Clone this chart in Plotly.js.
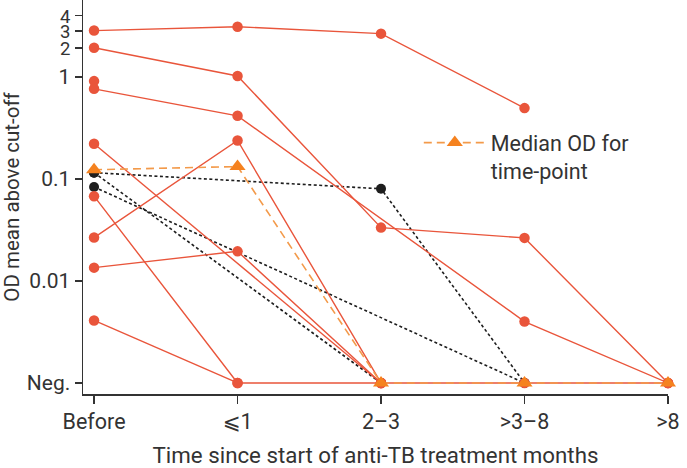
<!DOCTYPE html>
<html>
<head>
<meta charset="utf-8">
<script src="https://cdn.plot.ly/plotly-3.0.1.min.js"></script>
<style>html,body{margin:0;padding:0;background:#fff;}#chart{width:687px;height:468px;}</style>
</head>
<body>
<div id="chart"></div>
<script>
// Categories (time since start of anti-TB treatment, months)
const categories = ["Before", "⩽1", "2–3", ">3–8", ">8"];
const NEG = 0.001; // value used for "Neg."

const yTickVals = [NEG, 0.01, 0.1, 1, 1.92, 2.82, 4];
const yTickText = ["Neg.", "0.01", "0.1", "1", "2", "3", "4"];
const smallTicks = ["2", "3", "4"]; // drawn a little smaller so the tight stack fits

// Individual patients (red, solid)
const red1 = [2.84, 3.1, 2.65, 0.494, null];
const red2 = [1.93, 1.02, 0.0333, 0.0264, NEG];
const red3 = [0.908, null, null, null, null];
const red4 = [0.763, 0.415, null, 0.0040, NEG];
const red5 = [0.221, null, NEG, null, null];
const red6 = [0.0677, NEG, NEG, NEG, NEG];
const red7 = [0.0266, 0.238, NEG, null, null];
const red8 = [0.0135, 0.0195, NEG, null, null];
const red9 = [0.0041, NEG, null, null, null];

// Individual patients (black, dotted)
const black1 = [0.115, null, 0.080, NEG, null];
const black2 = [0.0833, null, null, NEG, null];
const black3 = [0.115, null, NEG, null, null];

// Median OD for time-point
const median = [0.123, 0.132, NEG, NEG, NEG];

const RED = "#e9553b";
const BLACK = "#1e1e1e";
const ORANGE = "#f5821f";

const traces = [];
[black1, black2, black3].forEach(function (v) {
  traces.push({
    x: categories, y: v, type: "scatter", mode: "lines+markers",
    connectgaps: true, showlegend: false, cliponaxis: false, hoverinfo: "skip",
    line: {color: BLACK, width: 1.6, dash: "3px,2.5px"},
    marker: {color: BLACK, size: 10, symbol: "circle"}
  });
});
[red1, red2, red3, red4, red5, red6, red7, red8, red9].forEach(function (v) {
  traces.push({
    x: categories, y: v, type: "scatter", mode: "lines+markers",
    connectgaps: true, showlegend: false, cliponaxis: false, hoverinfo: "skip",
    line: {color: RED, width: 1.4},
    marker: {color: RED, size: 10.5, symbol: "circle"}
  });
});
traces.push({
  x: categories, y: median, type: "scatter", mode: "lines+markers",
  name: "Median OD for<br>time-point", showlegend: true, cliponaxis: false, hoverinfo: "skip",
  line: {color: "#f39a4a", width: 1.6, dash: "8px,5px"},
  marker: {color: ORANGE, size: 14, symbol: "triangle-up"}
});

const FAM = "Roboto, 'DejaVu Sans', sans-serif";
const TICKFONT = {family: FAM, size: 21.5, color: "#333"};
const YTICKFONT = {family: FAM, size: 21, color: "#333"};
const XTITLEFONT = {family: FAM, size: 22.3, color: "#333"};
const YTITLEFONT = {family: FAM, size: 20.5, color: "#333"};
const LEGFONT = {family: FAM, size: 21.5, color: "#333"};

const yTickLabels = yTickText.map(function (t) {
  return smallTicks.indexOf(t) >= 0 ? "<span style=\"font-size:18.5px\">" + t + "</span>" : t;
});

const layout = {
  width: 687, height: 468,
  margin: {l: 83, r: 19, t: 0, b: 74, pad: 0},
  paper_bgcolor: "#fff", plot_bgcolor: "#fff",
  font: TICKFONT,
  showlegend: true,
  legend: {
    x: 0.574, xanchor: "left", y: 0.69, yanchor: "top",
    bgcolor: "rgba(0,0,0,0)", font: LEGFONT, valign: "top", itemwidth: 62,
    tracegroupgap: 0
  },
  xaxis: {
    type: "category", categoryorder: "array", categoryarray: categories,
    range: [-0.077, 4],
    showline: true, linecolor: "#333", linewidth: 1.5, mirror: false,
    ticks: "outside", ticklen: 8, tickwidth: 1.5, tickcolor: "#333",
    showgrid: false, zeroline: false, tickfont: TICKFONT,
    title: {text: "Time since start of anti-TB treatment months", font: XTITLEFONT, standoff: 14}
  },
  yaxis: {
    type: "log", range: [-3.108, 0.753],
    tickvals: yTickVals, ticktext: yTickLabels,
    showline: true, linecolor: "#333", linewidth: 1.5,
    ticks: "outside", ticklen: 7, tickwidth: 1.5, tickcolor: "#333",
    showgrid: false, zeroline: false, tickfont: YTICKFONT,
    title: {text: "OD mean above cut-off", font: YTITLEFONT, standoff: 6}
  }
};

Plotly.newPlot("chart", traces, layout, {staticPlot: true, displayModeBar: false});
</script>
</body>
</html>
